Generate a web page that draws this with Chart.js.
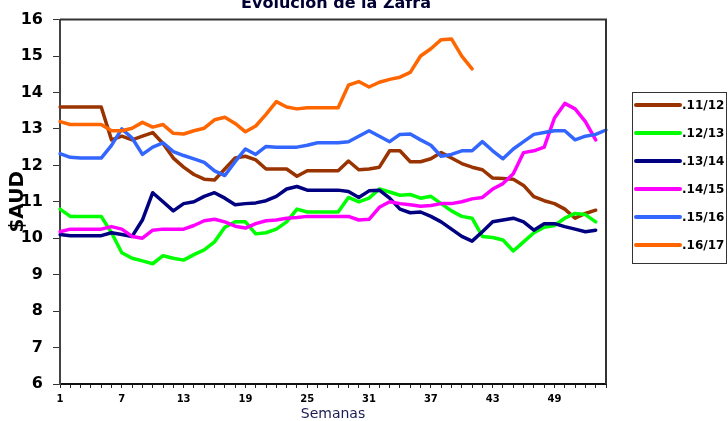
<!DOCTYPE html>
<html>
<head>
<meta charset="utf-8">
<script src="https://cdn.jsdelivr.net/npm/chart.js@4.4.1/dist/chart.umd.min.js"></script>
<style>
    html, body { margin: 0; padding: 0; background: #fff; }
    #wrap { width: 728px; height: 421px; }
</style>
</head>
<body>
<div id="wrap"><canvas id="zafraChart" width="728" height="421"></canvas></div>
<script>
const weeks = [1, 2, 3, 4, 5, 6, 7, 8, 9, 10, 11, 12, 13, 14, 15, 16, 17, 18,
    19, 20, 21, 22, 23, 24, 25, 26, 27, 28, 29, 30, 31, 32, 33, 34, 35, 36,
    37, 38, 39, 40, 41, 42, 43, 44, 45, 46, 47, 48, 49, 50, 51, 52, 53, 54];

const season1112 = [13.6, 13.6, 13.6, 13.6, 13.6, 12.7, 12.8, 12.7, 12.8, 12.9, 12.6, 12.2, 11.95, 11.75, 11.62,
    11.6, 11.9, 12.2, 12.25, 12.15, 11.9, 11.9, 11.9, 11.7, 11.85, 11.85, 11.85, 11.85, 12.12, 11.88,
    11.9, 11.95, 12.4, 12.4, 12.1, 12.1, 12.18, 12.35, 12.2, 12.05, 11.95, 11.88, 11.65,
    11.64, 11.62, 11.45, 11.14, 11.03, 10.95, 10.8, 10.55, 10.68, 10.77];
const season1213 = [10.8, 10.6, 10.6, 10.6, 10.6, 10.15, 9.6, 9.45, 9.38, 9.3, 9.52, 9.45, 9.4, 9.55, 9.68,
    9.9, 10.3, 10.45, 10.45, 10.12, 10.15, 10.25, 10.45, 10.8, 10.72, 10.72, 10.72, 10.72, 11.12, 11.0,
    11.1, 11.35, 11.27, 11.18, 11.2, 11.1, 11.15, 10.95, 10.75, 10.6, 10.55, 10.05, 10.02,
    9.95, 9.65, 9.9, 10.15, 10.3, 10.35, 10.55, 10.68, 10.65, 10.45];
const season1314 = [10.1, 10.07, 10.07, 10.07, 10.07, 10.15, 10.1, 10.05, 10.5, 11.25, 11.0, 10.75, 10.95, 11.0, 11.15,
    11.25, 11.1, 10.92, 10.95, 10.97, 11.03, 11.15, 11.35, 11.42, 11.32, 11.32, 11.32, 11.32, 11.28, 11.12,
    11.3, 11.32, 11.1, 10.8, 10.7, 10.72, 10.6, 10.45, 10.25, 10.05, 9.92, 10.18, 10.45,
    10.5, 10.55, 10.45, 10.22, 10.4, 10.4, 10.32, 10.25, 10.18, 10.22];
const season1415 = [10.18, 10.25, 10.25, 10.25, 10.25, 10.32, 10.25, 10.05, 10.0, 10.22, 10.25, 10.25, 10.25, 10.35, 10.48,
    10.52, 10.45, 10.33, 10.28, 10.4, 10.48, 10.5, 10.55, 10.57, 10.6, 10.6, 10.6, 10.6, 10.6, 10.5,
    10.52, 10.85, 11.0, 10.95, 10.92, 10.88, 10.9, 10.95, 10.95, 11.0, 11.08, 11.12, 11.35,
    11.5, 11.77, 12.35, 12.4, 12.5, 13.3, 13.7, 13.55, 13.2, 12.7];
const season1516 = [12.32, 12.22, 12.2, 12.2, 12.2, 12.55, 13.0, 12.75, 12.3, 12.5, 12.62, 12.38, 12.27, 12.18, 12.08,
    11.85, 11.72, 12.1, 12.45, 12.3, 12.52, 12.5, 12.5, 12.5, 12.55, 12.62, 12.62, 12.62, 12.65, 12.8,
    12.95, 12.8, 12.65, 12.85, 12.86, 12.7, 12.55, 12.25, 12.3, 12.4, 12.4, 12.65, 12.4,
    12.18, 12.45, 12.65, 12.85, 12.9, 12.95, 12.95, 12.7, 12.8, 12.85, 12.97];
const season1617 = [13.2, 13.12, 13.12, 13.12, 13.12, 12.95, 12.95, 13.02, 13.18, 13.05, 13.12, 12.88, 12.86, 12.95, 13.02,
    13.25, 13.32, 13.15, 12.92, 13.08, 13.4, 13.75, 13.6, 13.55, 13.58, 13.58, 13.58, 13.58, 14.2, 14.3,
    14.15, 14.28, 14.36, 14.42, 14.55, 15.0, 15.2, 15.45, 15.47, 15.0, 14.65];

const seasonLabels = ['.11/12', '.12/13', '.13/14', '.14/15', '.15/16', '.16/17'];
const seasonColors = ['#993300', '#00ff00', '#000080', '#ff00ff', '#3366ff', '#ff6600'];
const seasonData = [season1112, season1213, season1314, season1415, season1516, season1617];

const yTickMin = 6;
const yTickMax = 16;
const xLabelEvery = 6;

const FONT = '"DejaVu Sans", Verdana, sans-serif';

// title, top/right frame and the boxed legend are painted by hand
const extrasPlugin = {
    id: 'extras',
    afterDraw(chart) {
        const { ctx, chartArea: a } = chart;
        ctx.save();

        ctx.strokeStyle = '#333';
        ctx.lineWidth = 2;
        ctx.beginPath();
        ctx.moveTo(a.left, a.top);
        ctx.lineTo(a.right, a.top);
        ctx.lineTo(a.right, a.bottom);
        ctx.stroke();

        ctx.font = 'bold 16px ' + FONT;
        ctx.fillStyle = '#000033';
        ctx.textAlign = 'center';
        ctx.textBaseline = 'alphabetic';
        ctx.fillText('Evolución de la Zafra', 336, 8);

        ctx.strokeStyle = '#333';
        ctx.lineWidth = 1;
        ctx.strokeRect(632.5, 92.5, 94, 171);

        chart.data.datasets.forEach((ds, i) => {
            const y = 105 + i * 28;
            ctx.strokeStyle = ds.borderColor;
            ctx.lineWidth = 4;
            ctx.lineCap = 'round';
            ctx.beginPath();
            ctx.moveTo(636, y);
            ctx.lineTo(680, y);
            ctx.stroke();
            ctx.fillStyle = '#000';
            ctx.font = 'bold 12px ' + FONT;
            ctx.textAlign = 'left';
            ctx.textBaseline = 'middle';
            ctx.fillText(ds.label, 682, y + 1);
        });

        ctx.restore();
    }
};

const datasets = seasonData.map((values, i) => ({
    label: seasonLabels[i],
    data: values,
    borderColor: seasonColors[i],
    backgroundColor: seasonColors[i],
    borderWidth: 3.5,
    pointRadius: 0,
    tension: 0,
    fill: false,
    borderJoinStyle: 'round',
    borderCapStyle: 'round',
    order: seasonData.length - i
}));

new Chart(document.getElementById('zafraChart').getContext('2d'), {
    type: 'line',
    data: { labels: weeks, datasets: datasets },
    options: {
        responsive: false,
        animation: false,
        events: [],
        layout: { padding: { top: 17, right: 122, bottom: 0, left: 0 } },
        plugins: {
            legend: { display: false },
            title: { display: false },
            tooltip: { enabled: false }
        },
        scales: {
            x: {
                type: 'category',
                grid: { display: true, drawOnChartArea: false, drawTicks: true, tickLength: 4, color: '#222' },
                border: { display: true, color: '#111', width: 2 },
                ticks: {
                    autoSkip: false,
                    maxRotation: 0,
                    padding: 5,
                    color: '#000',
                    font: { family: FONT, size: 10, weight: 'bold' },
                    callback: function (val, idx) {
                        return idx % xLabelEvery === 0 ? this.getLabelForValue(val) : '';
                    }
                },
                title: {
                    display: true,
                    text: 'Semanas',
                    color: '#1b1b55',
                    font: { family: FONT, size: 14, lineHeight: 1 },
                    padding: { top: 0, bottom: 0 }
                },
                afterFit(scale) { scale.height = 37; }
            },
            y: {
                min: yTickMin,
                max: yTickMax,
                grid: { display: true, drawOnChartArea: false, drawTicks: true, tickLength: 7, color: '#333' },
                border: { display: true, color: '#444', width: 2 },
                ticks: {
                    stepSize: 1,
                    padding: 10,
                    color: '#000',
                    font: { family: FONT, size: 16, weight: 'bold' }
                },
                title: {
                    display: true,
                    text: '$AUD',
                    color: '#000',
                    font: { family: FONT, size: 20, weight: 'bold', lineHeight: 1 },
                    padding: { top: 8, bottom: 0 }
                },
                afterFit(scale) { scale.width = 60; }
            }
        }
    },
    plugins: [extrasPlugin]
});
</script>
</body>
</html>
